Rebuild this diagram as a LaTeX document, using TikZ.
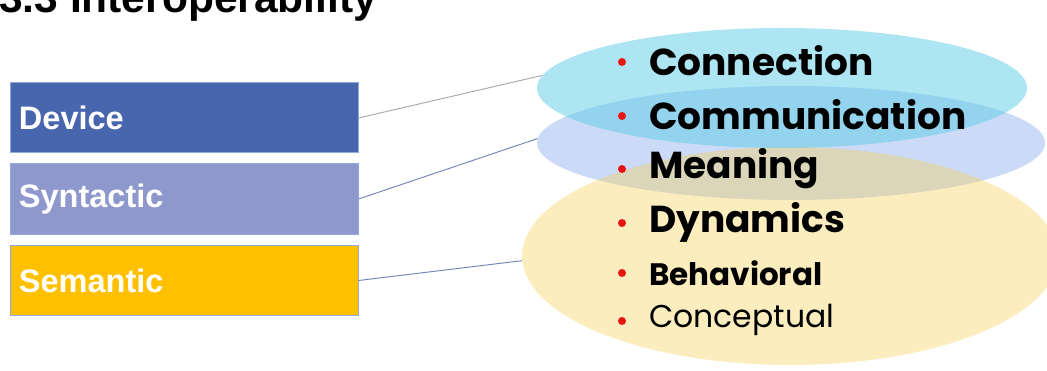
\documentclass[tikz,border=0pt]{standalone}
\usepackage{fontspec}
\setmainfont{Liberation Sans}
\newfontfamily\popfont{Poppins}
\usetikzlibrary{shapes.geometric}
\definecolor{devblue}{RGB}{72,102,174}
\definecolor{synblue}{RGB}{143,152,204}
\definecolor{semyel}{RGB}{255,192,0}
\definecolor{boxedge}{RGB}{143,170,220}
\definecolor{cyanfill}{RGB}{93,205,231}
\definecolor{lavfill}{RGB}{127,167,235}
\definecolor{yelfill}{RGB}{249,204,72}
\definecolor{linegray}{RGB}{165,165,170}
\definecolor{lineblue}{RGB}{110,128,180}
\definecolor{dotred}{RGB}{235,20,20}
\begin{document}
\begin{tikzpicture}[x=1pt,y=1pt,
  levelbox/.style={draw=boxedge, line width=1pt, minimum width=348pt, minimum height=70pt,
    text width=330pt, align=left, inner xsep=9pt, text=white,
    font=\fontsize{32.5}{38}\selectfont\bfseries},
  blob/.style={ellipse, inner sep=0pt, draw=none},
  link/.style={line width=0.9pt},
  itemtext/.style={anchor=west, inner sep=0pt, font=\popfont\fontsize{37.5}{42}\selectfont\bfseries},
  itemsmall/.style={anchor=west, inner sep=0pt, font=\popfont\fontsize{31}{36}\selectfont\bfseries},
  itemlight/.style={anchor=west, inner sep=0pt, font=\popfont\fontsize{31.5}{36}\selectfont},
  reddot/.style={circle, fill=dotred, inner sep=0pt, minimum size=8pt}
]
\useasboundingbox (0,0) rectangle (1047,370);
\fill[white] (0,0) rectangle (1047,370);

% title (cut at the top)
\node[anchor=base west, inner sep=0pt, font=\fontsize{42.5}{48}\selectfont\bfseries] (title) at (-1,357) {3.3 Interoperability};

% ellipses
\node[blob, fill=lavfill, fill opacity=0.4, minimum width=508pt, minimum height=114pt] (lav) at (791,227) {};
\node[blob, fill=yelfill, fill opacity=0.35, minimum width=536pt, minimum height=218pt] (yel) at (790,114) {};
\node[blob, fill=cyanfill, fill opacity=0.5, minimum width=490pt, minimum height=120pt] (cyan) at (782,282) {};

% boxes
\node[levelbox, fill=devblue] (dev) at (184,252) {Device};
\node[levelbox, fill=synblue] (syn) at (184,171) {Syntactic};
\node[levelbox, fill=semyel] (sem) at (184,89.5) {Semantic};

% connectors
\draw[link, linegray] (dev.east) -- (cyan.177.6);
\draw[link, lineblue] (syn.east) -- (lav.179);
\draw[link, lineblue] (sem.east) -- (yel.181);

% items
\node[reddot] (d1) at (622,308) {};
\node[itemtext] (t1) at (649,309) {Connection};
\node[reddot] (d2) at (622,254) {};
\node[itemtext] (t2) at (649,255) {Communication};
\node[reddot] (d3) at (622,201) {};
\node[itemtext] (t3) at (649,201) {Meaning};
\node[reddot] (d4) at (622,147) {};
\node[itemtext] (t4) at (649,148) {Dynamics};
\node[reddot] (d5) at (622,97) {};
\node[itemsmall] (t5) at (649,97) {Behavioral};
\node[reddot] (d6) at (622,49) {};
\node[itemlight] (t6) at (649,50) {Conceptual};
\end{tikzpicture}
\end{document}
